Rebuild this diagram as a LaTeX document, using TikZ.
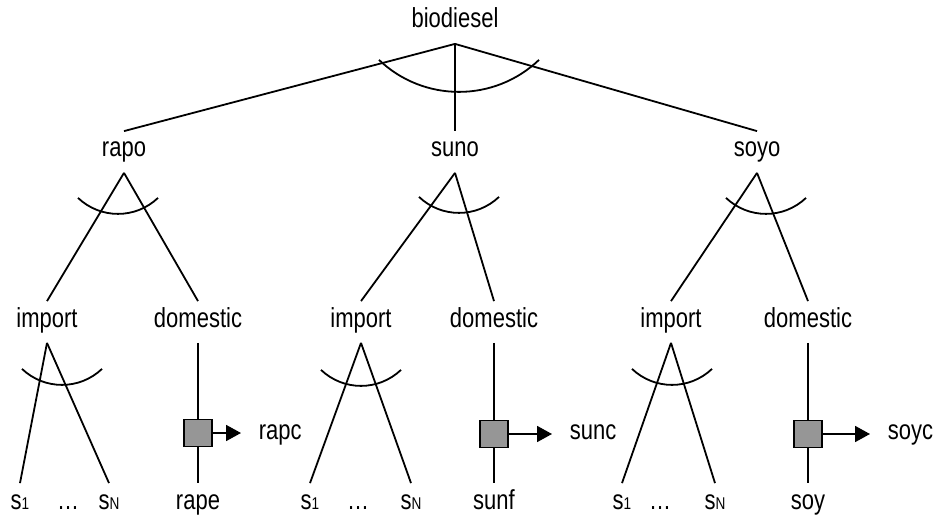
\documentclass[tikz,border=0pt]{standalone}
\usepackage{fontspec}
\setmainfont{Liberation Sans}[FakeStretch=0.8]
\usetikzlibrary{arrows.meta}
\newcommand{\sml}[1]{{\fontsize{17}{17}\selectfont #1}}

\begin{document}
\begin{tikzpicture}[x=1pt, y=-1pt, line width=1.8pt,
    lbl/.style={font=\fontsize{27.5}{30}\selectfont, anchor=base,
      text height=20pt, text depth=10pt, inner ysep=5pt, inner xsep=2pt},
    conv/.style={draw, line width=1.4pt, fill=black!41, minimum width=28pt,
      minimum height=27pt, inner sep=0pt},
    outarrow/.style={-{Triangle[length=15pt,width=16pt]}, shorten >=15pt},
    nest/.style={radius=58pt, start angle=-133.6, end angle=-46.4}]
  \useasboundingbox (0,0) rectangle (933,518);

  % top level
  \node[lbl] (bio) at (455,28) {biodiesel};
  \node[lbl] (rapo) at (124,157) {rapo};
  \node[lbl] (suno) at (455,157) {suno};
  \node[lbl] (soyo) at (757,157) {soyo};
  \draw (bio.south) -- (rapo.north);
  \draw (bio.south) -- (suno.north);
  \draw (bio.south) -- (soyo.north);
  \draw ([xshift=-76pt,yshift=-16pt]bio.south)
    arc[radius=116pt, start angle=-133.6, end angle=-46.4];

  % import / domestic
  \node[lbl] (rapimp) at (47,327) {import};
  \node[lbl] (rapdom) at (198,327) {domestic};
  \node[lbl] (sunimp) at (361,327) {import};
  \node[lbl] (sundom) at (494,327) {domestic};
  \node[lbl] (soyimp) at (671,327) {import};
  \node[lbl] (soydom) at (808,327) {domestic};
  \draw (rapo.south) -- (rapimp.north);
  \draw (rapo.south) -- (rapdom.north);
  \draw (suno.south) -- (sunimp.north);
  \draw (suno.south) -- (sundom.north);
  \draw (soyo.south) -- (soyimp.north);
  \draw (soyo.south) -- (soydom.north);
  \draw ([xshift=-46pt,yshift=-25pt]rapo.south) arc[nest];
  \draw ([xshift=-36pt,yshift=-24pt]suno.south) arc[nest];
  \draw ([xshift=-31pt,yshift=-25pt]soyo.south) arc[nest];

  % sources
  \node[lbl] (raps1) at (20,509) {s\sml{1}};
  \node[lbl] (rapdots) at (68,509) {…};
  \node[lbl] (rapsn) at (109,509) {s\sml{N}};
  \node[lbl] (sunso1) at (310,509) {s\sml{1}};
  \node[lbl] (sundots) at (358,509) {…};
  \node[lbl] (sunsn) at (411,509) {s\sml{N}};
  \node[lbl] (soys1) at (622,509) {s\sml{1}};
  \node[lbl] (soydots) at (660,509) {…};
  \node[lbl] (soysn) at (715,509) {s\sml{N}};
  \draw (rapimp.south) -- (raps1.north);
  \draw (rapimp.south) -- (rapsn.north);
  \draw (sunimp.south) -- (sunso1.north);
  \draw (sunimp.south) -- (sunsn.north);
  \draw (soyimp.south) -- (soys1.north);
  \draw (soyimp.south) -- (soysn.north);
  \draw ([xshift=-25pt,yshift=-26pt]rapimp.south) arc[nest];
  \draw ([xshift=-40pt,yshift=-27pt]sunimp.south) arc[nest];
  \draw ([xshift=-39pt,yshift=-26pt]soyimp.south) arc[nest];

  % domestic chains
  \node[conv] (rapbox) at (198,433) {};
  \node[conv] (sunbox) at (494,434) {};
  \node[conv] (soybox) at (808,434) {};
  \node[lbl] (rape) at (198,509) {rape};
  \node[lbl] (sunf) at (494,509) {sunf};
  \node[lbl] (soy) at (808,509) {soy};
  \node[lbl, anchor=base west] (rapc) at (256,439) {rapc};
  \node[lbl, anchor=base west] (sunc) at (567,439) {sunc};
  \node[lbl, anchor=base west] (soyc) at (885,439) {soyc};
  \draw (rapdom.south) -- (rapbox);
  \draw (rapbox) -- (rape.north);
  \draw (sundom.south) -- (sunbox);
  \draw (sunbox) -- (sunf.north);
  \draw (soydom.south) -- (soybox);
  \draw (soybox) -- (soy.north);
  \draw[outarrow] (rapbox.east) -- (rapbox.east -| rapc.west);
  \draw[outarrow] (sunbox.east) -- (sunbox.east -| sunc.west);
  \draw[outarrow] (soybox.east) -- (soybox.east -| soyc.west);
\end{tikzpicture}
\end{document}
